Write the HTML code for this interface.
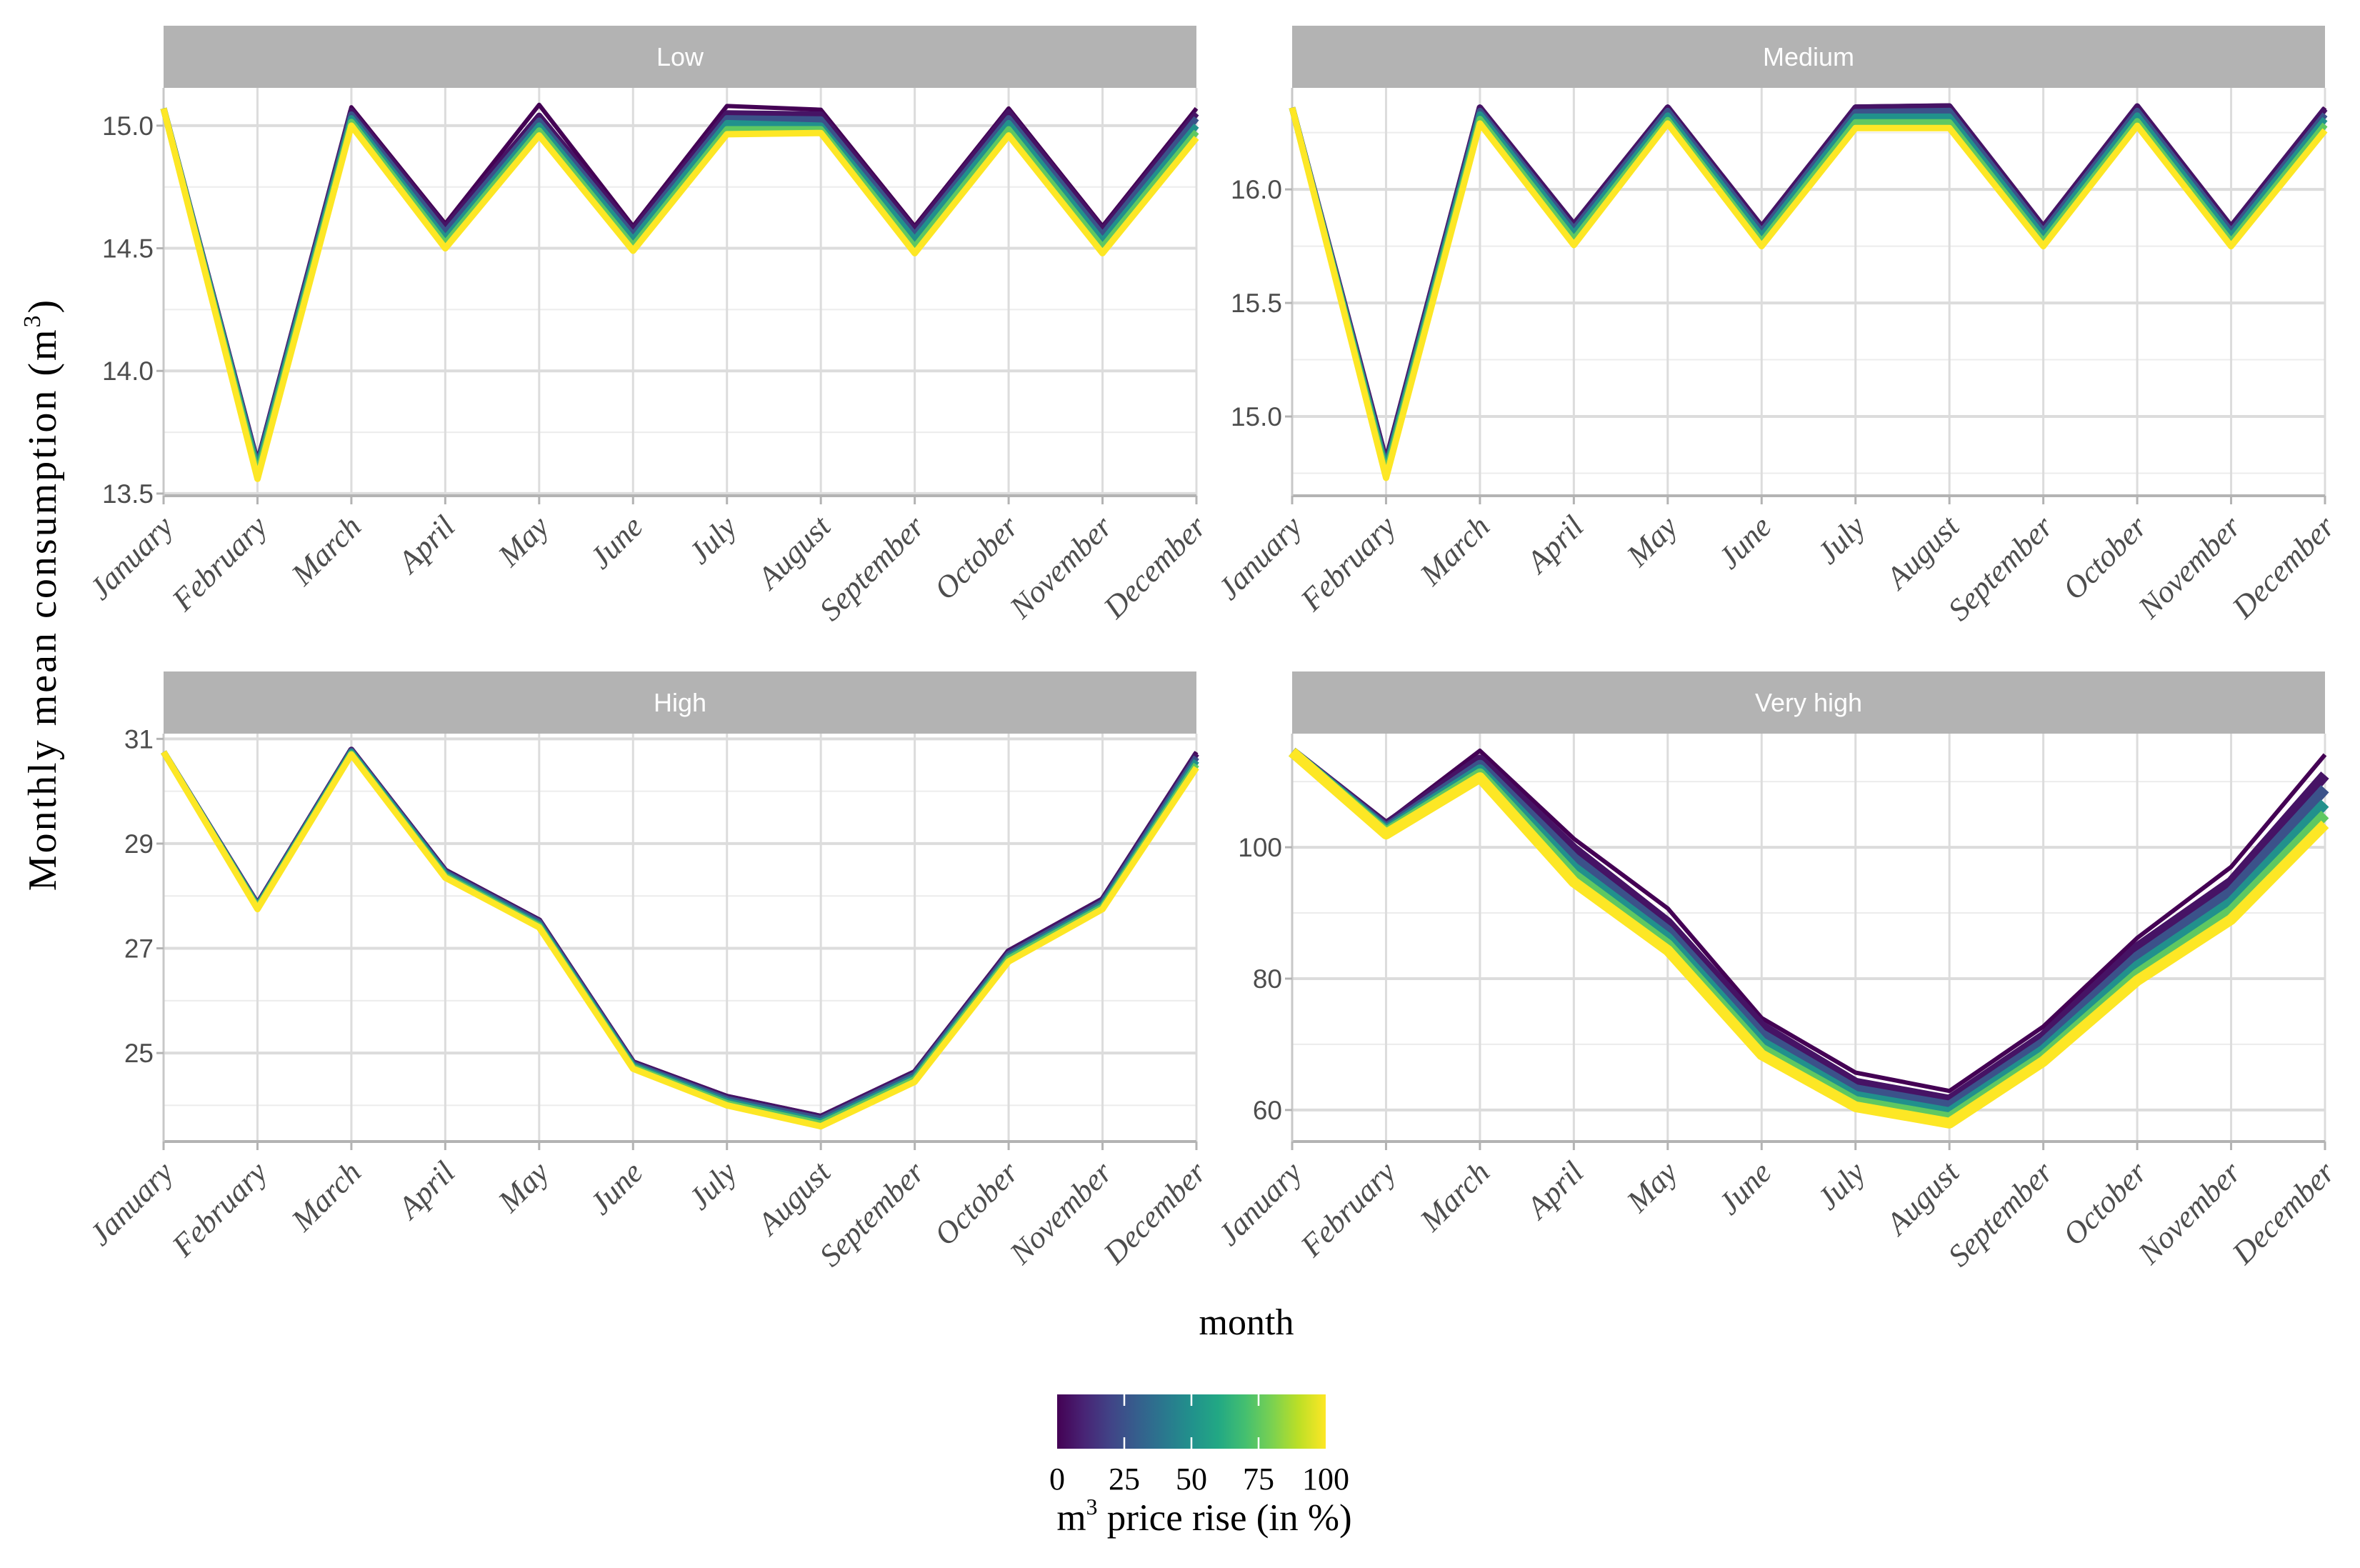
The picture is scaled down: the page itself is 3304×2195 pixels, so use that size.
<!DOCTYPE html>
<html><head><meta charset="utf-8"><style>
html,body{margin:0;padding:0;background:#fff}
svg{display:block}
</style></head><body>
<svg id="chart" xmlns="http://www.w3.org/2000/svg" width="3304" height="2195" viewBox="0 0 3304 2195">
<rect x="0" y="0" width="3304" height="2195" fill="#fff"/>
<g id="panels"></g>
<text x="1745" y="1868" font-family="Liberation Serif, serif" font-size="52" text-anchor="middle" fill="#000">month</text>
<text transform="translate(78,832) rotate(-90)" font-family="Liberation Serif, serif" font-size="56" letter-spacing="3" text-anchor="middle" fill="#000">Monthly mean consumption  (m<tspan font-size="34" dy="-22">3</tspan><tspan dy="22">)</tspan></text>
<g id="legend"></g>
</svg>
<script>
const months = ["January","February","March","April","May","June","July","August","September","October","November","December"];
const rises = [0,5,25,50,75,100];
const lowSeries = [
 [15.07,13.63,15.075,14.60,15.085,14.59,15.08,15.065,14.59,15.07,14.59,15.07],
 [15.07,13.62,15.06,14.585,15.04,14.575,15.05,15.045,14.575,15.055,14.575,15.05],
 [15.07,13.61,15.045,14.565,15.02,14.555,15.03,15.025,14.555,15.03,14.555,15.03],
 [15.07,13.60,15.03,14.54,15.0,14.535,15.01,15.00,14.535,15.01,14.53,15.0],
 [15.07,13.58,15.015,14.52,14.98,14.51,14.985,14.985,14.505,14.985,14.505,14.975],
 [15.07,13.56,15.0,14.50,14.96,14.49,14.965,14.97,14.48,14.96,14.48,14.95]];
const medSeries = [
 [16.36,14.80,16.365,15.85,16.365,15.84,16.365,16.37,15.84,16.37,15.84,16.36],
 [16.36,14.80,16.36,15.845,16.36,15.835,16.36,16.365,15.835,16.365,15.835,16.355],
 [16.36,14.78,16.345,15.825,16.345,15.815,16.34,16.345,15.815,16.345,15.815,16.33],
 [16.36,14.77,16.33,15.805,16.325,15.795,16.32,16.32,15.795,16.325,15.795,16.31],
 [16.36,14.75,16.31,15.78,16.305,15.77,16.295,16.295,15.77,16.30,15.77,16.285],
 [16.36,14.73,16.29,15.755,16.29,15.75,16.27,16.27,15.75,16.28,15.75,16.26]];
const highSeries = [
 [30.75,27.85,30.8,28.5,27.55,24.84,24.18,23.8,24.65,26.96,27.95,30.75],
 [30.75,27.84,30.79,28.48,27.53,24.82,24.16,23.78,24.63,26.94,27.93,30.72],
 [30.75,27.82,30.77,28.45,27.5,24.79,24.12,23.74,24.59,26.89,27.88,30.65],
 [30.75,27.80,30.75,28.42,27.46,24.76,24.08,23.69,24.54,26.84,27.83,30.58],
 [30.75,27.78,30.72,28.38,27.43,24.73,24.04,23.65,24.5,26.8,27.79,30.51],
 [30.75,27.75,30.7,28.35,27.4,24.7,24.0,23.6,24.45,26.75,27.75,30.45]];
const vhighSeries = [
 [114.5,103.8,114.7,101.3,90.7,74.0,65.7,62.9,72.7,86.2,97.0,114.1],
 [114.5,103.3,113.3,99.7,88.5,72.7,64.1,61.5,71.2,84.7,94.7,111.0],
 [114.5,102.9,112.5,98.3,87.3,71.5,63.1,60.6,70.2,83.3,93.2,108.9],
 [114.5,102.6,111.8,96.9,86.2,70.3,62.1,59.6,69.1,81.9,91.6,106.7],
 [114.5,102.3,111.2,95.8,85.2,69.3,61.3,58.8,68.2,80.7,90.3,105.0],
 [114.5,102.0,110.6,94.7,84.3,68.4,60.5,58.0,67.4,79.7,89.0,103.5]];
const lowTicks = [13.5,14.0,14.5,15.0];
const medTicks = [15.0,15.5,16.0];
const highTicks = [25,27,29,31];
const vhighTicks = [60,80,100];
const legendTicks = [0,25,50,75,100];

const NS = "http://www.w3.org/2000/svg";
function mk(tag, attrs, parent){const e=document.createElementNS(NS,tag);for(const k in attrs)e.setAttribute(k,attrs[k]);parent.appendChild(e);return e;}
const vstops=["#440154","#482475","#414487","#355f8d","#2a788e","#21918c","#22a884","#44bf70","#7ad151","#bddf26","#fde725"];
function hex(h){return [1,3,5].map(i=>parseInt(h.substr(i,2),16));}
function viridis(t){t=Math.max(0,Math.min(1,t));const p=t*10,i=Math.min(9,Math.floor(p)),f=p-i;const a=hex(vstops[i]),b=hex(vstops[i+1]);return "rgb("+a.map((v,k)=>Math.round(v+(b[k]-v)*f)).join(",")+")";}

const panels = [
 {name:"Low",data:lowSeries,ticks:lowTicks,dom:[13.491,15.154],minor:0.25,fmt:v=>v.toFixed(1),sw:9,x0:229,x1:1675,y0:123,y1:694},
 {name:"Medium",data:medSeries,ticks:medTicks,dom:[14.651,16.447],minor:0.25,fmt:v=>v.toFixed(1),sw:9,x0:1809,x1:3255,y0:123,y1:694},
 {name:"High",data:highSeries,ticks:highTicks,dom:[23.31,31.1],minor:1,fmt:v=>String(v),sw:9,x0:229,x1:1675,y0:1027,y1:1598},
 {name:"Very high",data:vhighSeries,ticks:vhighTicks,dom:[55.2,117.3],minor:10,fmt:v=>String(v),sw:15,x0:1809,x1:3255,y0:1027,y1:1598}];
const root=document.getElementById("panels");
panels.forEach(p=>{
 const slug=p.name.toLowerCase().replace(" ","-");
 const g=mk("g",{},root);
 
 
 const xs=i=>p.x0+(p.x1-p.x0)*i/11;
 const ys=v=>p.y1-(v-p.dom[0])/(p.dom[1]-p.dom[0])*(p.y1-p.y0);
 const strip=mk("rect",{x:p.x0,y:p.y0-87,width:p.x1-p.x0,height:87,fill:"#b3b3b3"},g);
 
 
 const st=mk("text",{x:(p.x0+p.x1)/2,y:p.y0-31,"text-anchor":"middle","font-family":"Liberation Sans Narrow, Liberation Sans, sans-serif","font-size":"36",fill:"#fff"},g);
 st.textContent=p.name;
 
 
 const m0=Math.ceil(p.dom[0]/p.minor)*p.minor;
 for(let v=m0;v<=p.dom[1];v+=p.minor){
  const isMajor=p.ticks.some(t=>Math.abs(t-v)<1e-6);
  const l=mk("line",{x1:p.x0,x2:p.x1,y1:ys(v),y2:ys(v),stroke:isMajor?"#dcdcdc":"#ececec","stroke-width":isMajor?4:2},g);
  
  
 }
 months.forEach((m,i)=>{
  const l=mk("line",{x1:xs(i),x2:xs(i),y1:p.y0,y2:p.y1,stroke:"#dcdcdc","stroke-width":3},g);
  
  
 });
 const ax=mk("line",{x1:p.x0,x2:p.x1,y1:p.y1,y2:p.y1,stroke:"#b3b3b3","stroke-width":4},g);
 
 
 const ay=mk("line",{x1:p.x0,x2:p.x0,y1:p.y0,y2:p.y1,stroke:"#c8c8c8","stroke-width":3},g);
 
 
 p.ticks.forEach(t=>{
  const tk=mk("line",{x1:p.x0-10,x2:p.x0,y1:ys(t),y2:ys(t),stroke:"#b3b3b3","stroke-width":3},g);
  
  
  const tl=mk("text",{x:p.x0-14,y:ys(t)+13,"text-anchor":"end","font-family":"Liberation Sans Narrow, Liberation Sans, sans-serif","font-size":"37",fill:"#4d4d4d"},g);
  tl.textContent=p.fmt(t);
  
  
 });
 months.forEach((m,i)=>{
  const tk=mk("line",{x1:xs(i),x2:xs(i),y1:p.y1,y2:p.y1+12,stroke:"#b3b3b3","stroke-width":3},g);
  
  
  const ax0=xs(i)+16, ay0=p.y1+46;
  const tl=mk("text",{x:ax0,y:ay0,"text-anchor":"end","font-family":"Liberation Serif, serif","font-style":"italic","font-size":"44",fill:"#4d4d4d",transform:"rotate(-45 "+ax0+" "+ay0+")"},g);
  tl.textContent=m;
  
  
 });
 p.data.forEach((s,k)=>{
  const d=s.map((v,i)=>(i?"L":"M")+xs(i).toFixed(1)+","+ys(v).toFixed(1)).join(" ");
  const path=mk("path",{d:d,fill:"none",stroke:viridis(rises[k]/100),"stroke-width":k===0?6:p.sw,"stroke-linejoin":"round"},g);
  
  
 });
});
const lg=document.getElementById("legend");
const defs=mk("defs",{},lg);
const grad=mk("linearGradient",{id:"vg",x1:"0",x2:"1",y1:"0",y2:"0"},defs);
for(let i=0;i<=10;i++){mk("stop",{offset:(i*10)+"%","stop-color":vstops[i]},grad);}
const LX0=1480,LX1=1856,LY0=1952,LY1=2028;
const bar=mk("rect",{x:LX0,y:LY0,width:LX1-LX0,height:LY1-LY0,fill:"url(#vg)"},lg);


const lxs=v=>LX0+(LX1-LX0)*v/100;
legendTicks.forEach(v=>{
 if(v>0&&v<100){
  const a=mk("line",{x1:lxs(v),x2:lxs(v),y1:LY0,y2:LY0+16,stroke:"#fff","stroke-width":2.5},lg);
  
  
  const b=mk("line",{x1:lxs(v),x2:lxs(v),y1:LY1-16,y2:LY1,stroke:"#fff","stroke-width":2.5},lg);
  
  
 }
 const t=mk("text",{x:lxs(v),y:2085,"text-anchor":"middle","font-family":"Liberation Serif, serif","font-size":"44",fill:"#000"},lg);
 t.textContent=String(v);
 
 
});
const lt=mk("text",{x:1686,y:2142,"text-anchor":"middle","font-family":"Liberation Serif, serif","font-size":"53",fill:"#000"},lg);
lt.innerHTML='m<tspan font-size="32" dy="-22">3</tspan><tspan dy="22"> price rise (in %)</tspan>';


</script>
</body></html>
